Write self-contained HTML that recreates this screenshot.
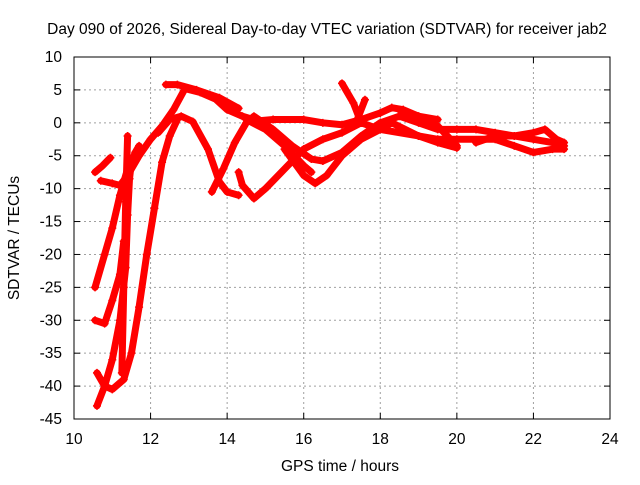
<!DOCTYPE html>
<html><head><meta charset="utf-8"><style>
body{margin:0;background:#fff}
svg text{font-family:"Liberation Sans",sans-serif;font-size:15.5px;fill:#000}
</style></head><body>
<svg id="chart" width="640" height="480" xmlns="http://www.w3.org/2000/svg">
<rect width="640" height="480" fill="#fff"/>
<text x="327" y="34" text-anchor="middle">Day 090 of 2026, Sidereal Day-to-day VTEC variation (SDTVAR) for receiver jab2</text>
<g id="grid"></g>
<g id="ticks"></g>
<g id="series"></g>
<rect x="74" y="57" width="536" height="362" fill="none" stroke="#000" stroke-width="1"/>
<text x="340" y="471" text-anchor="middle">GPS time / hours</text>
<text transform="translate(19,238) rotate(-90)" text-anchor="middle">SDTVAR / TECUs</text>
</svg>
<script>
const xTicks=[10,12,14,16,18,20,22,24];
const yTicks=[10,5,0,-5,-10,-15,-20,-25,-30,-35,-40,-45];
const track1=[[10.55,-7.5],[10.75,-6.5],[10.95,-5.3]];
const track2=[[10.7,-8.8],[11.0,-9.2],[11.2,-9.5],[11.4,-8],[11.7,-5],[12,-2.5],[12.3,-0.5],[12.6,2],[12.9,5.2],[13.3,4.6],[13.7,3.6],[14.0,2.0],[14.4,1.0],[14.8,0.3],[15.2,0.5],[16,0.5],[16.5,0],[17,-0.3],[17.5,0.5],[18,1.5],[18.3,2.3],[18.6,2],[19,1],[19.5,0.5]];
const track3=[[12.4,5.8],[12.7,5.8],[13.2,5],[13.8,3.8],[14.3,2.2]];
const track4=[[12.2,-1.5],[12.5,0.5],[12.8,1],[13.1,0.2],[13.5,-4],[13.8,-9],[14.0,-10.5],[14.3,-11]];
const track5=[[13.6,-10.5],[13.9,-7],[14.2,-3],[14.5,0],[14.7,1],[15.2,-1],[15.7,-3.5],[16.2,-5.5],[16.5,-5.8],[17,-4.5],[17.5,-2],[18,0],[18.5,1],[19,0],[19.5,-1],[20,-1],[20.5,-1],[21,-1.5],[21.5,-2],[22,-2.5],[22.5,-3],[22.8,-3.5]];
const track6=[[14.3,-7.5],[14.4,-9.5],[14.7,-11.5],[15,-10],[15.5,-7],[16,-4],[16.5,-2.5],[17,-1.5],[17.5,0],[18,-1],[19,-2],[19.5,-2.5],[20,-2.5],[21,-2.5],[21.5,-3.5],[22,-4.5],[22.5,-4],[22.8,-4]];
const track7=[[14.5,0.5],[15,-1],[15.5,-3.5],[16,-6.5],[16.2,-7.5]];
const track8=[[15.5,-4],[16,-8],[16.3,-9.2],[16.6,-8],[17,-5],[17.5,-2.5],[18,-1],[18.3,0],[19,-2],[19.5,-3],[20,-3.8]];
const track9=[[17.0,6],[17.3,3],[17.5,0]];
const track10=[[17.4,0.5],[17.6,3.5]];
const track11=[[10.6,-43],[10.8,-40],[11,-36],[11.2,-30],[11.35,-22],[11.4,-14],[11.45,-8.5],[11.5,-6],[11.6,-4.5],[11.7,-3.5]];
const track12=[[11.25,-38],[11.3,-25],[11.35,-12],[11.4,-2]];
const track13=[[10.55,-30],[10.8,-30.5],[11,-27],[11.2,-23],[11.3,-18]];
const track14=[[10.55,-25],[10.8,-20],[11.0,-16],[11.2,-11],[11.4,-7]];
const track15=[[10.6,-38],[10.8,-40],[11.0,-40.5],[11.3,-39],[11.5,-35],[11.7,-28],[11.9,-20],[12.1,-13],[12.3,-6],[12.5,-2],[12.7,0.5]];
const track16=[[18.5,2],[19,1],[19.5,-0.5],[20,-3.5]];
const track17=[[20.5,-3],[21,-2],[21.5,-2],[22,-1.5],[22.3,-1],[22.6,-2.5],[22.8,-3]];
const tracks=[track1,track2,track3,track4,track5,track6,track7,track8,track9,track10,track11,track12,track13,track14,track15,track16,track17];
const NS="http://www.w3.org/2000/svg";
const X0=74,X1=610,Y0=57,Y1=419;
function xs(h){return X0+(h-10)/(24-10)*(X1-X0);}
function ys(v){return Y0+(10-v)/(10+45)*(Y1-Y0);}
const grid=document.getElementById('grid'),ticks=document.getElementById('ticks'),ser=document.getElementById('series');
function mk(tag,attrs,parent){const e=document.createElementNS(NS,tag);for(const k in attrs)e.setAttribute(k,attrs[k]);parent.appendChild(e);return e;}
xTicks.forEach(t=>{
  const x=xs(t);
  if(t>10&&t<24){const g=mk('line',{x1:x,x2:x,y1:Y0,y2:Y1,stroke:'#a0a0a0','stroke-dasharray':'2,3'},grid);
  
  }
  mk('line',{x1:x,x2:x,y1:Y1,y2:Y1-6,stroke:'#000'},grid);mk('line',{x1:x,x2:x,y1:Y0,y2:Y0+6,stroke:'#000'},grid);
  const tx=mk('text',{x:x,y:Y1+25,'text-anchor':'middle'},ticks);tx.textContent=t;
  
  
});
yTicks.forEach(t=>{
  const y=ys(t);
  if(t<10&&t>-45){const g=mk('line',{x1:X0,x2:X1,y1:y,y2:y,stroke:'#a0a0a0','stroke-dasharray':'2,3'},grid);
  
  }
  mk('line',{x1:X0,x2:X0+6,y1:y,y2:y,stroke:'#000'},grid);mk('line',{x1:X1,x2:X1-6,y1:y,y2:y,stroke:'#000'},grid);
  const tx=mk('text',{x:62,y:y+5,'text-anchor':'end'},ticks);tx.textContent=t;
  
  
});
tracks.forEach(tr=>{
  const p=mk('polyline',{points:tr.map(d=>xs(d[0])+','+ys(d[1])).join(' '),fill:'none',stroke:'#ff0000','stroke-width':7,'stroke-linejoin':'round','stroke-linecap':'round'},ser);
  
  
  tr.forEach(d=>{
    const x=xs(d[0]),y=ys(d[1]);
    const m=mk('path',{d:`M${x-4},${y}H${x+4}M${x},${y-4}V${y+4}`,stroke:'#ff0000','stroke-width':1.5},ser);
    
    
  });
});
</script>
</body></html>
